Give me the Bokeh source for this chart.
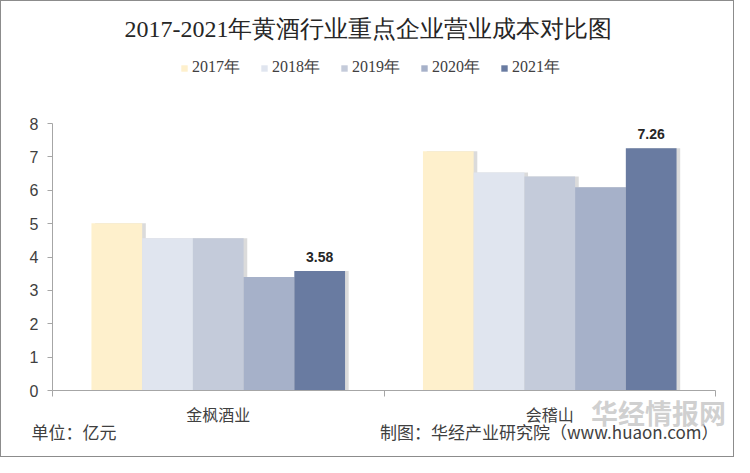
from bokeh.plotting import figure
from bokeh.models import (ColumnDataSource, Range1d, FixedTicker, LinearAxis,
                          Label, LabelSet, Legend, LegendItem)
from bokeh.transform import dodge
from bokeh.core.properties import value
from bokeh.embed import file_html
from bokeh.resources import INLINE

# ---------------- data ----------------
companies = ["金枫酒业", "会稽山"]
years = ["2017年", "2018年", "2019年", "2020年", "2021年"]
v2017 = [5.01, 7.17]
v2018 = [4.56, 6.53]
v2019 = [4.56, 6.41]
v2020 = [3.40, 6.09]
v2021 = [3.58, 7.26]
y_ticks = [0, 1, 2, 3, 4, 5, 6, 7, 8]
title_text = "2017-2021年黄酒行业重点企业营业成本对比图"
unit_text = "单位：亿元"
source_text = "制图：华经产业研究院（www.huaon.com）"
watermark_text = "华经情报网"

colors = ["#FEF0CC", "#E0E5EF", "#C4CBDA", "#A6B1C9", "#697BA1"]

series = [v2017, v2018, v2019, v2020, v2021]
xc = [i + 0.5 for i in range(len(companies))]
data = dict(xc=xc, company=companies)
for yr, vals in zip(years, series):
    data["y" + yr[:4]] = vals
data["lbl2021"] = [f"{v:.2f}" for v in v2021]
src = ColumnDataSource(data)

# ---------------- layout ----------------
W, H = 734, 457
# plot area inside canvas (px): left 51, right 714, top 122, bottom 389
ymax = y_ticks[-1]
ncat = len(companies)
xs = (714 - 51) / ncat
ys = (389 - 122) / ymax
x_rng = Range1d(-51 / xs, ncat + (W - 714) / xs)
y_rng = Range1d(-(H - 389) / ys, ymax + 122 / ys)

p = figure(width=W, height=H, output_backend="svg", toolbar_location=None,
           x_range=x_rng, y_range=y_rng, min_border=0,
           x_axis_location=None, y_axis_location=None)
p.grid.visible = False
p.outline_line_color = None
p.background_fill_color = "white"
p.border_fill_color = "white"
p.styles = {"border": "1.5px solid #8c8c8c"}

bw = 0.153
items = []
for i, (yr, col) in enumerate(zip(years, colors)):
    off = (i - 2) * bw
    field = "y" + yr[:4]
    p.vbar(x=dodge("xc", off + 0.011, range=p.x_range), top=field, width=bw,
           source=src, fill_color="black", fill_alpha=0.14, line_color=None)
    r = p.vbar(x=dodge("xc", off, range=p.x_range), top=field, width=bw,
               source=src, fill_color=col, line_color=None)
    items.append(LegendItem(label=yr, renderers=[r]))

labels = LabelSet(x=dodge("xc", 2 * bw, range=p.x_range), y="y2021", text="lbl2021",
                  source=src, text_align="center", text_baseline="bottom",
                  y_offset=9, text_font=value("Liberation Sans"), text_font_style="bold",
                  text_font_size="14px", text_color="#262626")
p.add_layout(labels)

yax = LinearAxis(ticker=FixedTicker(ticks=y_ticks), fixed_location=0, bounds=(0, ymax),
                 axis_line_color="#a6a6a6",
                 major_tick_line_color="#a6a6a6", major_tick_out=5, major_tick_in=0,
                 minor_tick_line_color=None, major_label_text_font_size="16px",
                 major_label_text_font="Liberation Sans",
                 major_label_text_color="#404040", major_label_standoff=9)
p.add_layout(yax, "left")

xax = LinearAxis(ticker=FixedTicker(ticks=xc, minor_ticks=list(range(ncat + 1))),
                 fixed_location=0, bounds=(0, ncat),
                 major_label_overrides={x: c for x, c in zip(xc, companies)},
                 major_tick_line_color=None, minor_tick_out=6, minor_tick_in=0,
                 minor_tick_line_color="#a6a6a6", axis_line_color="#a6a6a6",
                 major_label_text_font_size="16px", major_label_text_font="Noto Sans CJK SC",
                 major_label_text_color="#404040", major_label_standoff=5)
p.add_layout(xax, "below")

legend = Legend(items=items, orientation="horizontal", location=(179, 380),
                padding=0, margin=0, spacing=20, glyph_width=8, glyph_height=8,
                label_standoff=4, label_text_font_size="16px",
                label_text_font="Liberation Serif", label_text_color="#404040",
                border_line_color=None, background_fill_alpha=0)
p.add_layout(legend)

p.add_layout(Label(x=367, y=430, x_units="screen", y_units="screen", text=title_text,
                   text_align="center", text_baseline="middle", text_font="Liberation Serif",
                   text_font_size="24px", text_color="#262626"))
p.add_layout(Label(x=30, y=27, x_units="screen", y_units="screen", text=unit_text,
                   text_align="left", text_baseline="middle", text_font="Noto Sans CJK SC",
                   text_font_size="17px", text_color="#404040"))
p.add_layout(Label(x=717, y=27, x_units="screen", y_units="screen", text=source_text,
                   text_align="right", text_baseline="middle", text_font="Noto Sans CJK SC",
                   text_font_size="17px", text_color="#404040"))
p.add_layout(Label(x=657, y=46, x_units="screen", y_units="screen", text=watermark_text,
                   text_align="center", text_baseline="middle", text_font="Noto Sans CJK SC",
                   text_font_style="bold", text_font_size="27px", text_color="#c4c4c4",
                   text_alpha=0.8))

open("out.html", "w").write(file_html(p, INLINE))
